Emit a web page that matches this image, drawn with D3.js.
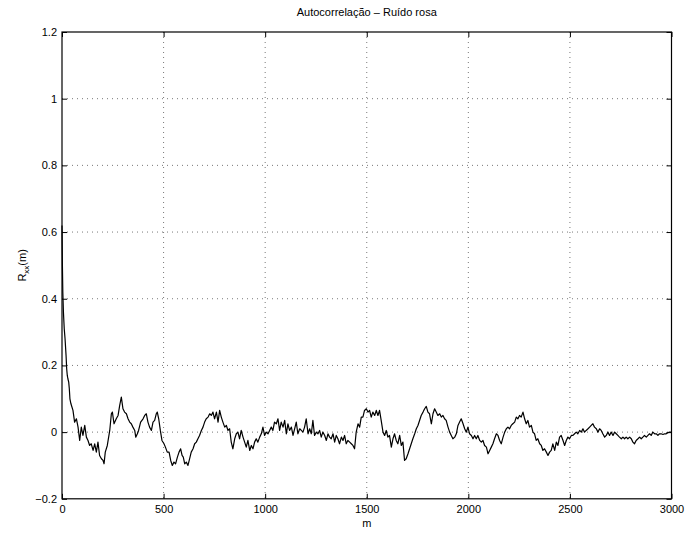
<!DOCTYPE html>
<html>
<head>
<meta charset="utf-8">
<script src="https://cdn.jsdelivr.net/npm/d3@7"></script>
<style>
  html, body { margin: 0; padding: 0; background: #fff; }
  svg { display: block; }
  text { font-family: "Liberation Sans", Arial, Helvetica, sans-serif; fill: #000; }
</style>
</head>
<body>
<svg id="chart" width="689" height="533"></svg>
<script>
// Lag index m and normalised autocorrelation Rxx(m) of a pink-noise record
const lags = [
  0, 2, 4, 7, 11, 15, 20, 23, 26, 29, 33, 36, 39, 44,
  54, 62, 71, 79, 87, 95, 103, 112, 120, 128, 136, 144, 153, 161, 169, 177, 185, 194, 202, 207, 213, 223,
  235, 243, 248, 256, 267, 276, 284, 292, 300, 308, 317, 325, 333, 341, 349, 358, 363, 371, 377, 387,
  399, 407, 415, 423, 431, 440, 448, 456, 464, 469, 476, 484, 492, 502, 509, 518, 527, 535, 543, 551,
  559, 568, 576, 584, 591, 597, 604, 612, 620, 628, 636, 645, 653, 661, 669, 677, 686, 694, 702, 710,
  719, 727, 735, 743, 751, 760, 768, 776, 784, 792, 801, 809, 817, 825, 833, 841, 850, 858, 866, 874,
  882, 891, 899, 907, 915, 924, 932, 940, 948, 956, 964, 973, 981, 989, 997, 1005, 1014, 1022, 1030, 1038,
  1046, 1055, 1063, 1071, 1079, 1088, 1096, 1104, 1112, 1120, 1129, 1137, 1145, 1153, 1161, 1170, 1178, 1186, 1194, 1202,
  1211, 1219, 1227, 1235, 1243, 1252, 1260, 1268, 1276, 1284, 1293, 1301, 1309, 1317, 1325, 1334, 1342, 1350, 1358, 1366,
  1375, 1383, 1391, 1399, 1407, 1416, 1424, 1432, 1440, 1448, 1457, 1465, 1473, 1481, 1489, 1498, 1506, 1514, 1522, 1530,
  1539, 1547, 1555, 1563, 1571, 1580, 1588, 1596, 1604, 1612, 1621, 1629, 1637, 1645, 1653, 1662, 1670, 1678, 1686, 1694,
  1703, 1711, 1719, 1727, 1736, 1744, 1752, 1760, 1768, 1777, 1785, 1793, 1801, 1809, 1818, 1826, 1834, 1842, 1850, 1859,
  1867, 1875, 1883, 1891, 1900, 1908, 1916, 1924, 1933, 1941, 1949, 1957, 1965, 1974, 1982, 1990, 1998, 2006, 2015, 2023,
  2031, 2039, 2047, 2056, 2064, 2072, 2080, 2089, 2097, 2105, 2113, 2121, 2129, 2138, 2146, 2154, 2162, 2171, 2179, 2187,
  2195, 2203, 2211, 2219, 2228, 2236, 2244, 2252, 2260, 2269, 2277, 2285, 2293, 2301, 2310, 2318, 2326, 2334, 2342, 2351,
  2359, 2367, 2375, 2384, 2392, 2400, 2408, 2416, 2425, 2433, 2441, 2449, 2457, 2466, 2474, 2482, 2490, 2498, 2507, 2515,
  2523, 2531, 2539, 2548, 2556, 2564, 2572, 2580, 2589, 2597, 2605, 2613, 2621, 2630, 2638, 2646, 2654, 2662, 2671, 2679,
  2687, 2695, 2703, 2712, 2720, 2728, 2736, 2744, 2753, 2761, 2769, 2777, 2785, 2794, 2802, 2810, 2818, 2826, 2835, 2843,
  2851, 2859, 2867, 2876, 2884, 2892, 2900, 2908, 2917, 2925, 2933, 2941, 2949, 2958, 2966, 2974, 2982, 2990, 3000
];
const rxx = [
  0.62, 0.50, 0.42, 0.36, 0.31, 0.28, 0.23, 0.19, 0.17, 0.16, 0.15, 0.13, 0.10, 0.085,
  0.065, 0.03, 0.04, 0.015, -0.025, 0.015, -0.01, 0.02, -0.015, -0.025, -0.04, -0.035, -0.055, -0.035, -0.06, -0.03, -0.07, -0.08, -0.085, -0.095, -0.06, -0.04,
  0.005, 0.055, 0.06, 0.025, 0.04, 0.05, 0.08, 0.105, 0.07, 0.06, 0.055, 0.04, 0.03, 0.025, 0.015, 0.005, -0.015, -0.005, 0.005, 0.03,
  0.04, 0.05, 0.055, 0.03, 0.015, 0.005, 0.03, 0.035, 0.055, 0.06, 0.04, 0.005, -0.025, -0.035, -0.045, -0.06, -0.06, -0.085, -0.1, -0.09,
  -0.095, -0.075, -0.06, -0.05, -0.07, -0.075, -0.095, -0.09, -0.1, -0.08, -0.06, -0.05, -0.035, -0.03, -0.02, -0.01, 0.005, 0.015, 0.03, 0.04,
  0.045, 0.055, 0.05, 0.06, 0.04, 0.06, 0.03, 0.065, 0.045, 0.03, 0.015, 0.02, 0.005, 0.01, -0.03, -0.05, -0.02, -0.005, 0.0, -0.02,
  0.005, -0.015, -0.03, -0.045, -0.025, -0.055, -0.04, -0.05, -0.03, -0.02, -0.03, -0.015, -0.005, 0.015, -0.01, 0.0, -0.005, 0.005, 0.015, 0.005,
  0.03, 0.025, 0.04, 0.005, 0.03, 0.015, 0.035, -0.005, 0.025, 0.005, 0.015, -0.01, 0.01, 0.03, -0.005, 0.01, 0.005, 0.0, 0.015, 0.04,
  -0.005, 0.01, -0.005, 0.035, -0.01, 0.0, -0.005, 0.005, -0.015, 0.0, -0.01, -0.025, -0.005, -0.015, -0.02, -0.005, -0.03, -0.01, -0.02, -0.035,
  -0.015, -0.025, -0.01, -0.035, -0.025, -0.03, -0.035, -0.04, -0.05, 0.0, 0.025, 0.015, 0.045, 0.045, 0.065, 0.07, 0.06, 0.065, 0.045, 0.06,
  0.05, 0.065, 0.05, 0.065, 0.035, 0.0, -0.01, 0.005, -0.015, -0.01, -0.045, -0.02, -0.005, -0.025, -0.035, -0.01, -0.04, -0.03, -0.085, -0.08,
  -0.065, -0.05, -0.035, -0.02, -0.005, 0.01, 0.02, 0.035, 0.05, 0.06, 0.07, 0.077, 0.06, 0.055, 0.025, 0.055, 0.07, 0.06, 0.05, 0.055,
  0.045, 0.05, 0.04, 0.035, 0.015, 0.0, -0.01, -0.02, -0.015, -0.005, 0.02, 0.03, 0.04, 0.025, 0.01, 0.0, 0.015, -0.005, -0.01, -0.02,
  -0.01, -0.02, -0.01, -0.025, -0.03, -0.025, -0.04, -0.045, -0.065, -0.055, -0.045, -0.035, -0.02, -0.005, -0.01, -0.025, -0.035, -0.015, 0.0, 0.01,
  0.015, 0.01, 0.02, 0.025, 0.03, 0.045, 0.04, 0.05, 0.045, 0.06, 0.04, 0.025, 0.035, 0.015, 0.02, 0.0, -0.005, -0.025, -0.02, -0.035,
  -0.04, -0.055, -0.05, -0.06, -0.07, -0.06, -0.055, -0.035, -0.055, -0.03, -0.04, -0.015, -0.01, -0.025, -0.04, -0.025, -0.015, -0.02, -0.01, -0.01,
  -0.005, 0.0, -0.005, 0.005, 0.0, 0.01, 0.0, 0.005, 0.01, 0.015, 0.02, 0.025, 0.015, 0.01, 0.0, 0.01, 0.005, -0.005, -0.015, -0.01,
  0.0, -0.01, 0.0, -0.01, 0.0, -0.005, -0.01, -0.015, -0.02, -0.015, -0.02, -0.015, -0.02, -0.015, -0.02, -0.03, -0.035, -0.025, -0.02, -0.015,
  -0.02, -0.015, -0.01, -0.015, -0.01, -0.005, -0.01, 0.0, -0.005, -0.005, -0.01, -0.005, -0.005, -0.007, -0.005, -0.005, -0.002, 0.0, 0.0
];
const xTicks = [0, 500, 1000, 1500, 2000, 2500, 3000];
const yTicks = [-0.2, 0, 0.2, 0.4, 0.6, 0.8, 1, 1.2];
const titleText = "Autocorrelação – Ruído rosa";
const xLabel = "m";

const W = 689, H = 533;
const margin = { left: 62, right: 17.5, top: 32, bottom: 34.2 };
const iw = W - margin.left - margin.right;
const ih = H - margin.top - margin.bottom;

const svg = d3.select("#chart");
const g = svg.append("g").attr("transform", `translate(${margin.left},${margin.top})`);

const x = d3.scaleLinear().domain([0, 3000]).range([0, iw]);
const y = d3.scaleLinear().domain([-0.2, 1.2]).range([ih, 0]);

const fmtX = d => String(d);
const fmtY = d => d === 0 ? "0" : (d < 0 ? "\u2212" + String(Math.abs(+d.toFixed(1))) : String(+d.toFixed(1)));

// dotted grid
const grid = g.append("g").attr("stroke", "#555").attr("stroke-width", 0.8)
  .attr("stroke-dasharray", "1,4");
grid.selectAll(".gx").data(xTicks.slice(1, -1)).join("line")
  .attr("x1", d => x(d)).attr("x2", d => x(d)).attr("y1", 0).attr("y2", ih);
grid.selectAll(".gy").data(yTicks.slice(1, -1)).join("line")
  .attr("y1", d => y(d)).attr("y2", d => y(d)).attr("x1", 0).attr("x2", iw);

// data line
const line = d3.line().x((d, i) => x(lags[i])).y(d => y(d));
g.append("path").datum(rxx)
  .attr("fill", "none").attr("stroke", "#000").attr("stroke-width", 1.2)
  .attr("stroke-linejoin", "round")
  .attr("d", line);

// axes with inward ticks
function styleAxis(sel) {
  sel.select(".domain").remove();
  sel.selectAll(".tick line").attr("stroke", "#000");
  sel.selectAll("text").attr("font-size", 11).attr("fill", "#000");
}
g.append("g").attr("transform", `translate(0,${ih})`)
  .call(d3.axisBottom(x).tickValues(xTicks).tickSizeInner(-5).tickSizeOuter(0).tickPadding(6).tickFormat(fmtX))
  .call(styleAxis);
g.append("g")
  .call(d3.axisTop(x).tickValues(xTicks).tickSizeInner(-5).tickSizeOuter(0).tickFormat(""))
  .call(styleAxis);
g.append("g")
  .call(d3.axisLeft(y).tickValues(yTicks).tickSizeInner(-5).tickSizeOuter(0).tickPadding(5).tickFormat(fmtY))
  .call(styleAxis);
g.append("g").attr("transform", `translate(${iw},0)`)
  .call(d3.axisRight(y).tickValues(yTicks).tickSizeInner(-5).tickSizeOuter(0).tickFormat(""))
  .call(styleAxis);

// frame
g.append("rect").attr("x", 0).attr("y", 0).attr("width", iw).attr("height", ih)
  .attr("fill", "none").attr("stroke", "#000").attr("stroke-width", 1.2);

// title and axis labels
svg.append("text").attr("x", margin.left + iw / 2).attr("y", 16)
  .attr("text-anchor", "middle").attr("font-size", 11).text(titleText);
svg.append("text").attr("x", margin.left + iw / 2).attr("y", 527)
  .attr("text-anchor", "middle").attr("font-size", 11).text(xLabel);
const yl = svg.append("text")
  .attr("transform", `translate(26,${margin.top + ih / 2}) rotate(-90)`)
  .attr("text-anchor", "middle").attr("font-size", 11);
yl.append("tspan").text("R");
yl.append("tspan").attr("font-size", 8).attr("dy", 3).text("xx");
yl.append("tspan").attr("dy", -3).text("(m)");
</script>
</body>
</html>
